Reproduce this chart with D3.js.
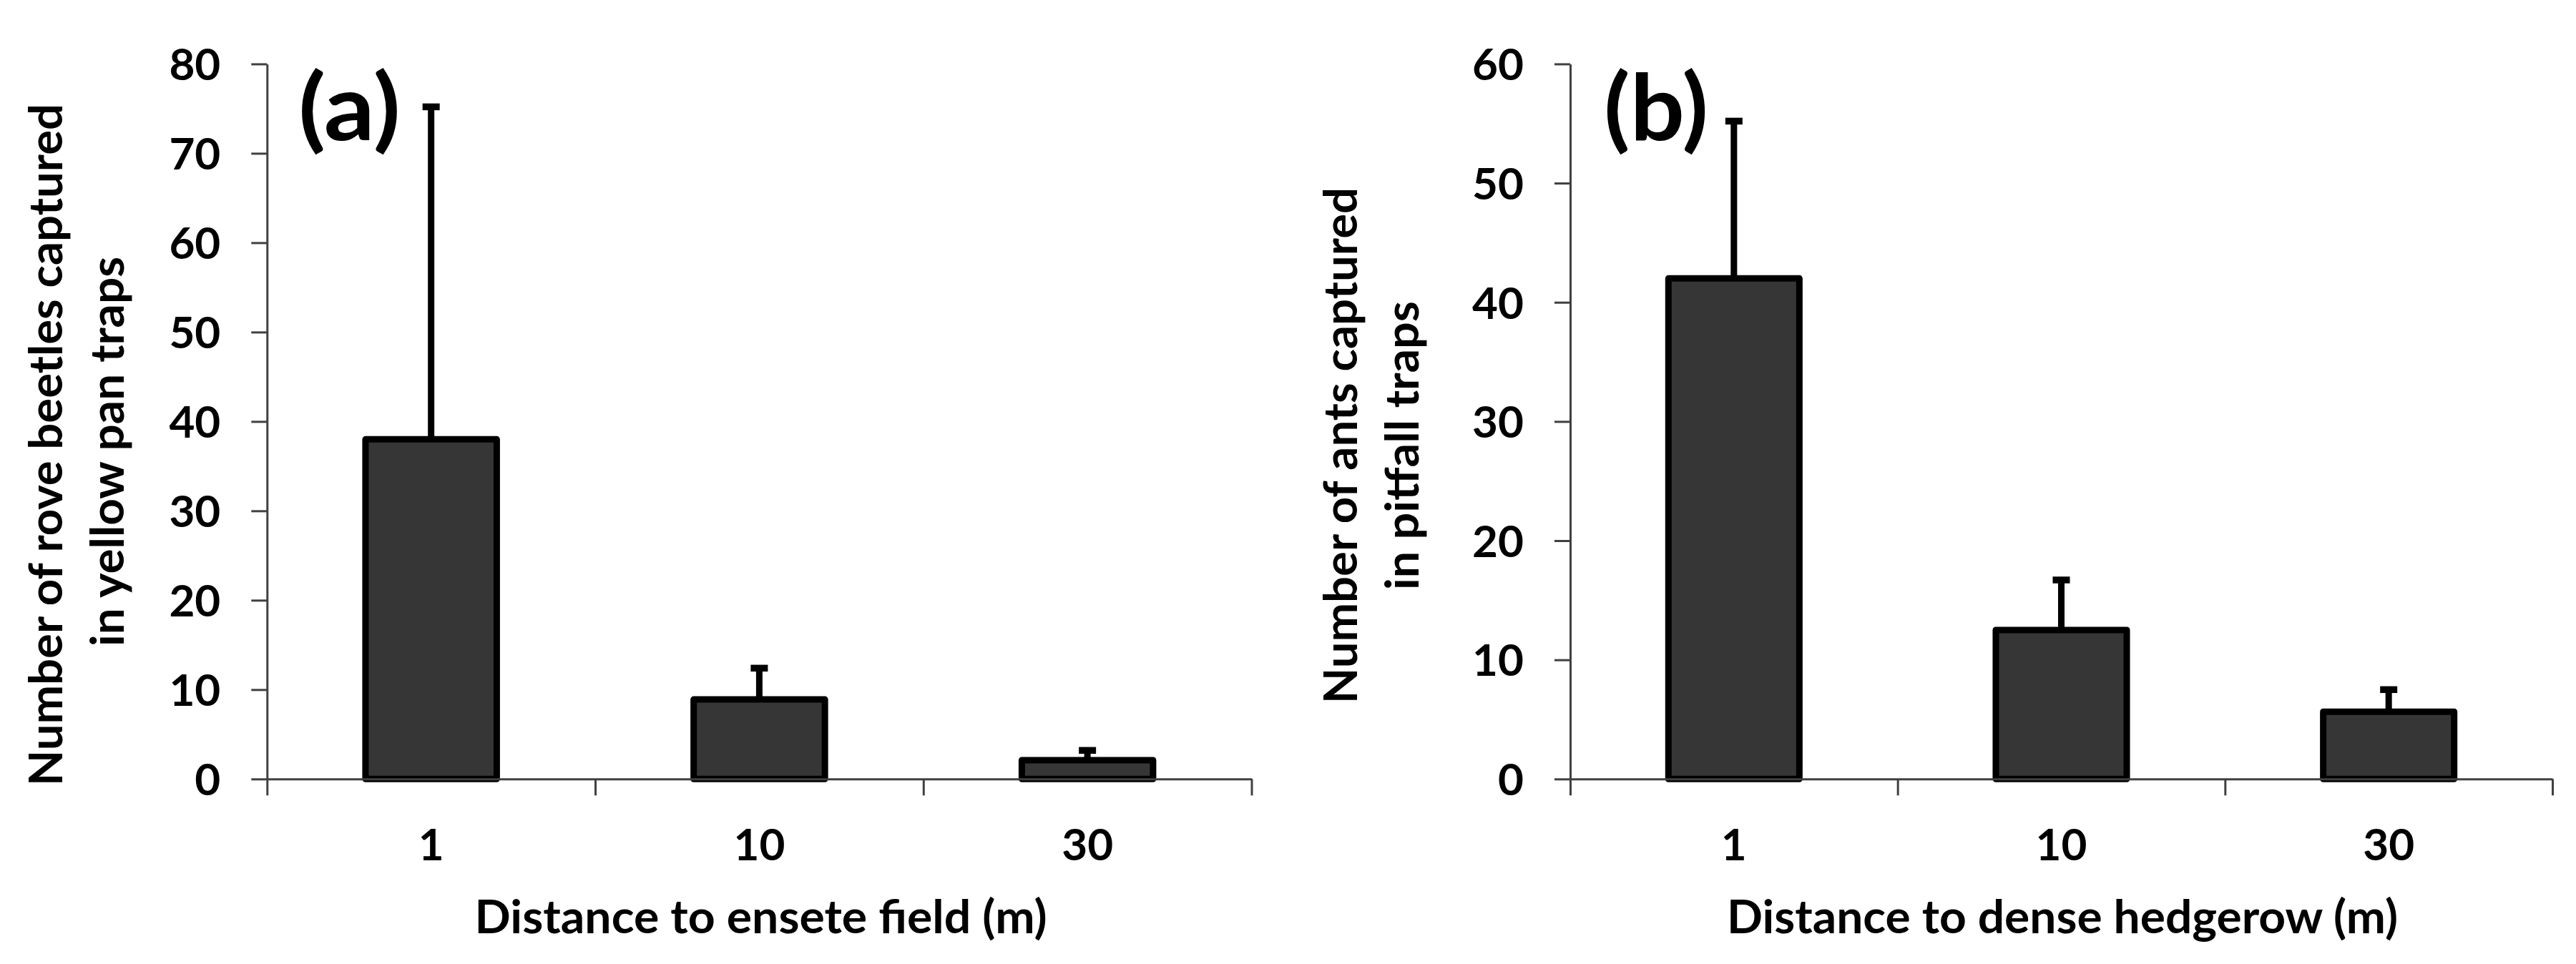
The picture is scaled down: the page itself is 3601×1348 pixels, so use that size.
<!DOCTYPE html>
<html>
<head>
<meta charset="utf-8">
<script src="https://cdn.jsdelivr.net/npm/d3@7"></script>
<style>
  html, body { margin: 0; padding: 0; background: #ffffff; }
  svg { display: block; }
  text { font-family: "Lato", "Open Sans", sans-serif; font-weight: 700; fill: #000; }
</style>
</head>
<body>
<svg id="chart" width="3601" height="1348"></svg>
<script>
// ---------------- data ----------------
const categories = ["1", "10", "30"];

// (a) rove beetles in yellow pan traps
const beetleMeans = [38, 8.9, 2.1];
const beetleUpper = [75.2, 12.4, 3.2];   // top of error bar (mean + SE)
const beetleTicks = [0, 10, 20, 30, 40, 50, 60, 70, 80];

// (b) ants in pitfall traps
const antMeans = [42, 12.5, 5.65];
const antUpper = [55.2, 16.7, 7.5];
const antTicks = [0, 10, 20, 30, 40, 50, 60];

const panelLabels = ["(a)", "(b)"];
const xTitles = ["Distance to ensete field (m)", "Distance to dense hedgerow (m)"];
const yTitles = [
  ["Number of rove beetles captured", "in yellow pan traps"],
  ["Number of ants captured", "in pitfall traps"]
];

// ---------------- layout ----------------
const svg = d3.select("#chart");
const Y0 = 1089.3, Y1 = 89.4;
const axisColor = "#404040";

const panels = [
  {
    x0: 373.3, x1: 1749.5, means: beetleMeans, upper: beetleUpper, ticks: beetleTicks,
    label: panelLabels[0], labelX: 417, labelW: 143,
    xTitle: xTitles[0], xTitleX: 663.6, xTitleW: 800,
    yTitle: yTitles[0], yLines: [{x: 87, cy: 622, w: 954}, {x: 173, cy: 631.5, w: 545}]
  },
  {
    x0: 2195, x1: 3568, means: antMeans, upper: antUpper, ticks: antTicks,
    label: panelLabels[1], labelX: 2242, labelW: 146,
    xTitle: xTitles[1], xTitleX: 2414, xTitleW: 938,
    yTitle: yTitles[1], yLines: [{x: 1897, cy: 623, w: 722}, {x: 1983, cy: 623, w: 404}]
  }
];

panels.forEach(p => {
  const g = svg.append("g");
  const maxV = d3.max(p.ticks);
  const y = d3.scaleLinear().domain([0, maxV]).range([Y0, Y1]);
  const x = d3.scaleBand().domain(categories).range([p.x0, p.x1]).padding(0);
  const bw = x.bandwidth() * 0.4;
  const data = categories.map((c, i) => ({ c, m: p.means[i], u: p.upper[i] }));

  // error bars (upper only)
  const eb = g.append("g").attr("class", "errorbars");
  eb.selectAll("line.v").data(data).join("line")
    .attr("class", "v")
    .attr("x1", d => x(d.c) + x.bandwidth() / 2)
    .attr("x2", d => x(d.c) + x.bandwidth() / 2)
    .attr("y1", d => y(d.m))
    .attr("y2", d => y(d.u))
    .attr("stroke", "#000").attr("stroke-width", 9);
  eb.selectAll("line.cap").data(data).join("line")
    .attr("class", "cap")
    .attr("x1", d => x(d.c) + x.bandwidth() / 2 - 12)
    .attr("x2", d => x(d.c) + x.bandwidth() / 2 + 12)
    .attr("y1", d => y(d.u))
    .attr("y2", d => y(d.u))
    .attr("stroke", "#000").attr("stroke-width", 9.5);

  // bars
  g.append("g").selectAll("rect").data(data).join("rect")
    .attr("x", d => x(d.c) + (x.bandwidth() - bw) / 2)
    .attr("width", bw)
    .attr("y", d => y(d.m))
    .attr("height", d => Y0 - y(d.m))
    .attr("fill", "#363636")
    .attr("stroke", "#000")
    .attr("stroke-width", 9)
    .attr("stroke-linejoin", "round");

  // y axis
  const yAxis = g.append("g")
    .attr("transform", `translate(${p.x0},0)`)
    .call(d3.axisLeft(y).tickValues(p.ticks).tickSize(22).tickSizeOuter(0).tickPadding(43));
  yAxis.select(".domain").attr("stroke", axisColor).attr("stroke-width", 3);
  yAxis.selectAll(".tick line").attr("stroke", axisColor).attr("stroke-width", 3);
  yAxis.selectAll(".tick text")
    .attr("font-family", "Lato").attr("font-weight", 700)
    .attr("font-size", 62).attr("dy", "0.36em").attr("fill", "#000");

  // x axis: boundary ticks
  const xb = d3.scaleLinear().domain([0, categories.length]).range([p.x0, p.x1]);
  const xAxis = g.append("g")
    .attr("transform", `translate(0,${Y0})`)
    .call(d3.axisBottom(xb).tickValues(d3.range(categories.length + 1))
      .tickFormat("").tickSize(23).tickSizeOuter(0));
  xAxis.select(".domain").attr("stroke", axisColor).attr("stroke-width", 3);
  xAxis.selectAll(".tick line").attr("stroke", axisColor).attr("stroke-width", 3);

  // x axis: category labels
  const xLab = g.append("g")
    .attr("transform", `translate(0,${Y0})`)
    .call(d3.axisBottom(x).tickSize(0));
  xLab.select(".domain").remove();
  xLab.selectAll(".tick text")
    .attr("font-family", "Lato").attr("font-weight", 700)
    .attr("font-size", 62).attr("y", 114).attr("dy", 0).attr("fill", "#000");

  // x title
  g.append("text")
    .attr("x", p.xTitleX).attr("y", 1305)
    .attr("font-size", 65)
    .attr("textLength", p.xTitleW).attr("lengthAdjust", "spacingAndGlyphs")
    .text(p.xTitle);

  // y title (two lines, rotated)
  p.yTitle.forEach((t, i) => {
    const L = p.yLines[i];
    g.append("text")
      .attr("transform", `translate(${L.x},${L.cy}) rotate(-90)`)
      .attr("text-anchor", "middle")
      .attr("font-size", 65)
      .attr("textLength", L.w).attr("lengthAdjust", "spacingAndGlyphs")
      .text(t);
  });

  // panel label
  g.append("text")
    .attr("x", p.labelX).attr("y", 196)
    .attr("font-size", 128)
    .attr("textLength", p.labelW).attr("lengthAdjust", "spacingAndGlyphs")
    .text(p.label);
});
</script>
</body>
</html>
